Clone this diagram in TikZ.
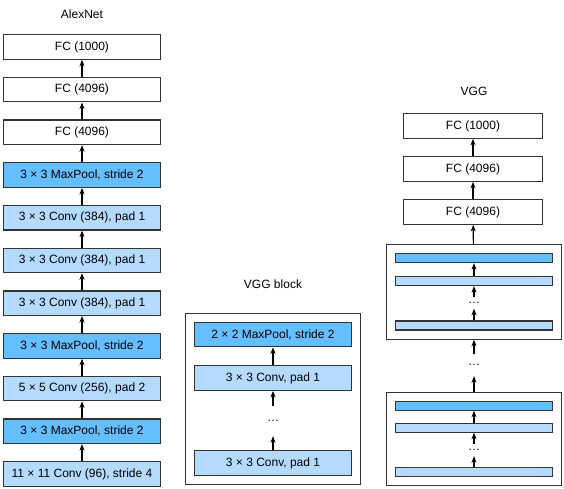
\documentclass[tikz,border=0pt]{standalone}
\usepackage{fontspec}
\setmainfont{Liberation Sans}
\usetikzlibrary{arrows.meta,fit}
\definecolor{poolblue}{RGB}{100,190,255}
\definecolor{convblue}{RGB}{180,218,255}
\definecolor{edgegray}{RGB}{51,51,51}

\begin{document}
\begin{tikzpicture}[x=1pt,y=-1pt,font=\fontsize{12}{14}\selectfont,
	layer/.style={draw=edgegray,line width=1.2pt,minimum width=157pt,minimum height=24.5pt,inner sep=0pt},
	fc/.style={layer,fill=white,minimum width=139pt},
	bar/.style={draw=edgegray,line width=1.2pt,minimum width=157pt,minimum height=9pt,inner sep=0pt},
	frame/.style={draw=edgegray,line width=1.2pt,inner sep=8.5pt},
	gap/.style={inner sep=0pt},
	flow/.style={-{Stealth[length=6.5pt,width=5pt]},line width=1.2pt}]
	\useasboundingbox (0,0) rectangle (564,489);
	
	\node (alextitle) at (82,14) {AlexNet};
	\foreach \c/\t [count=\i] in {convblue/{11 × 11 Conv (96), stride 4},poolblue/{3 × 3 MaxPool, stride 2},convblue/{5 × 5 Conv (256), pad 2},poolblue/{3 × 3 MaxPool, stride 2},convblue/{3 × 3 Conv (384), pad 1},convblue/{3 × 3 Conv (384), pad 1},convblue/{3 × 3 Conv (384), pad 1},poolblue/{3 × 3 MaxPool, stride 2},white/{FC (4096)},white/{FC (4096)},white/{FC (1000)}}
		\node[layer,fill=\c] (a\i) at (82,{473.95-(\i-1)*42.7}) {\t};
	\foreach \i [count=\j from 2] in {1,...,10}
		\draw[flow] (a\i) -- (a\j);
	
	\node (blocktitle) at (273,284) {VGG block};
	\node[layer,fill=convblue] (bc2) at (273,463) {3 × 3 Conv, pad 1};
	\node[gap,minimum height=30pt] (bdots) at (273,421) {\dots};
	\node[layer,fill=convblue] (bc1) at (273,378) {3 × 3 Conv, pad 1};
	\node[layer,fill=poolblue] (bpool) at (273,334.5) {2 × 2 MaxPool, stride 2};
	\node[frame,fit=(bpool)(bc2)] (block) {};
	\draw[flow] (bc2) -- (bdots);
	\draw[flow] (bdots) -- (bc1);
	\draw[flow] (bc1) -- (bpool);
	
	\node (vggtitle) at (474,91) {VGG};
	\node[fc] (vf1) at (473,212) {FC (4096)};
	\node[fc] (vf2) at (473,169) {FC (4096)};
	\node[fc] (vf3) at (473,126) {FC (1000)};
	\node[bar,fill=poolblue] (u1) at (474,258) {};
	\node[bar,fill=convblue] (u2) at (474,281) {};
	\node[gap,minimum height=11pt] (udots) at (474,303) {\dots};
	\node[bar,fill=convblue] (u3) at (474,325.5) {};
	\node[frame,fit=(u1)(u3)] (upper) {};
	\node[gap,minimum height=22pt] (mdots) at (474,365) {\dots};
	\node[bar,fill=poolblue] (l1) at (474,405.7) {};
	\node[bar,fill=convblue] (l2) at (474,427.7) {};
	\node[gap,minimum height=12pt] (ldots) at (474,450) {\dots};
	\node[bar,fill=convblue] (l3) at (474,472) {};
	\node[frame,fit=(l1)(l3)] (lower) {};
	\draw[flow] (l3) -- (ldots);
	\draw[flow] (ldots) -- (l2);
	\draw[flow] (l2) -- (l1);
	\draw[flow] (lower) -- (mdots);
	\draw[flow] (mdots) -- (upper);
	\draw[flow] (u3) -- (udots);
	\draw[flow] (udots) -- (u2);
	\draw[flow] (u2) -- (u1);
	\draw[flow] (upper) -- (vf1);
	\draw[flow] (vf1) -- (vf2);
	\draw[flow] (vf2) -- (vf3);
\end{tikzpicture}
\end{document}
